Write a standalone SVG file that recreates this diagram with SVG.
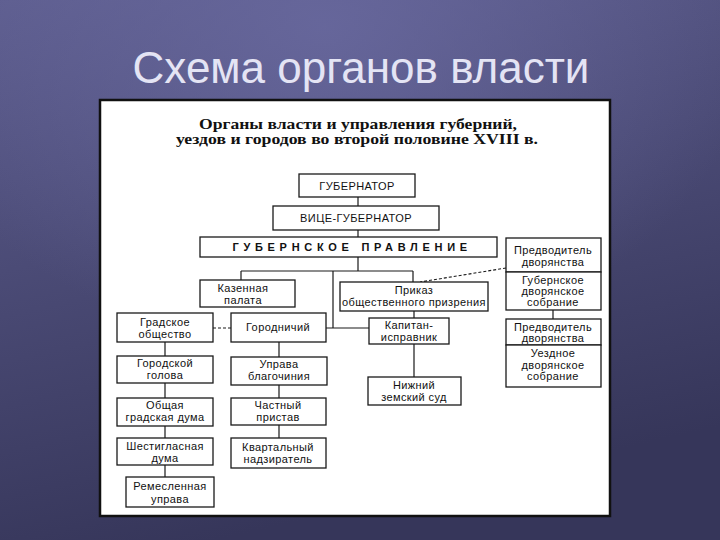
<svg xmlns="http://www.w3.org/2000/svg" width="720" height="540" viewBox="0 0 720 540">
<defs>
<linearGradient id="bg" x1="0" y1="0" x2="0.3" y2="1">
<stop offset="0" stop-color="#5d5d8e"/>
<stop offset="1" stop-color="#36365a"/>
</linearGradient>
<radialGradient id="hl" cx="0.45" cy="0.05" r="0.6">
<stop offset="0" stop-color="#6a6aa0" stop-opacity="0.8"/>
<stop offset="1" stop-color="#6a6aa0" stop-opacity="0"/>
</radialGradient>
<style>
.box{fill:#fff;stroke:#1a1a1a;stroke-width:1.3}
.t{font-family:"Liberation Sans",Arial,sans-serif;font-size:11px;letter-spacing:0.4px;fill:#111;text-anchor:middle}
.c{fill:none;stroke:#1a1a1a;stroke-width:1.2}
.d{fill:none;stroke:#1a1a1a;stroke-width:1.1;stroke-dasharray:3 2}
.h{font-family:"Liberation Serif","Times New Roman",serif;font-weight:bold;font-size:15px;fill:#111;text-anchor:middle}
</style>
</defs>
<rect width="720" height="540" fill="url(#bg)"/>
<rect width="720" height="540" fill="url(#hl)"/>
<text x="361" y="83" font-family="Liberation Sans,Arial,sans-serif" font-size="44" fill="#e4e4f4" text-anchor="middle">Схема органов власти</text>
<rect x="100" y="100" width="510" height="416" fill="#fff" stroke="#111" stroke-width="2.5"/>
<text class="h" x="358" y="129" textLength="318" lengthAdjust="spacingAndGlyphs">Органы власти и управления губерний,</text>
<text class="h" x="357" y="144" textLength="362" lengthAdjust="spacingAndGlyphs">уездов и городов во второй половине XVIII в.</text>
<g id="connectors">
<path class="c" d="M358 197V206M358 230V237M358 257V271M241 271H413M241 271V280M413 271V282M333 271V328M326 328H369M414 311V318M414 344V377M553 310V319"/>
<path class="c" d="M165 342V356M165 383V398M165 426V438M165 465V477M279 342V357M279 385V398M279 425V438"/>
<path class="d" d="M213 328H231M506 268L420 282"/>
</g>
<g id="gubernator"><rect class="box" x="299" y="174" width="116" height="23"/><text class="t" x="357" y="190">ГУБЕРНАТОР</text></g>
<g id="vice"><rect class="box" x="273" y="206" width="166" height="24"/><text class="t" x="356" y="222">ВИЦЕ-ГУБЕРНАТОР</text></g>
<g id="pravlenie"><rect class="box" x="200" y="237" width="297" height="20"/><text class="t" x="350" y="251" font-weight="bold" font-size="10.5" textLength="235" lengthAdjust="spacing">ГУБЕРНСКОЕ ПРАВЛЕНИЕ</text></g>
<g id="kazennaya"><rect class="box" x="200" y="280" width="95" height="27"/><text class="t" x="243" y="292">Казенная</text><text class="t" x="243" y="304">палата</text></g>
<g id="prikaz"><rect class="box" x="340" y="282" width="148" height="29"/><text class="t" x="414" y="294">Приказ</text><text class="t" x="414" y="306" letter-spacing="0">общественного призрения</text></g>
<g id="kapitan"><rect class="box" x="369" y="318" width="80" height="26"/><text class="t" x="409" y="329">Капитан-</text><text class="t" x="409" y="341">исправник</text></g>
<g id="nizhniy"><rect class="box" x="368" y="377" width="93" height="28"/><text class="t" x="414" y="389">Нижний</text><text class="t" x="414" y="401">земский  суд</text></g>
<g id="predv-gub"><rect class="box" x="506" y="238" width="95" height="34"/><text class="t" x="553" y="254">Предводитель</text><text class="t" x="553" y="266">дворянства</text></g>
<g id="gub-sobranie"><rect class="box" x="506" y="272" width="95" height="38"/><text class="t" x="553" y="284">Губернское</text><text class="t" x="553" y="295">дворянское</text><text class="t" x="553" y="306">собрание</text></g>
<g id="predv-uezd"><rect class="box" x="506" y="319" width="95" height="26"/><text class="t" x="553" y="331">Предводитель</text><text class="t" x="553" y="342">дворянства</text></g>
<g id="uezd-sobranie"><rect class="box" x="506" y="345" width="95" height="42"/><text class="t" x="553" y="357">Уездное</text><text class="t" x="553" y="369">дворянское</text><text class="t" x="553" y="380">собрание</text></g>
<g id="gradskoe"><rect class="box" x="117" y="313" width="96" height="29"/><text class="t" x="165" y="326">Градское</text><text class="t" x="165" y="338">общество</text></g>
<g id="gorodnichiy"><rect class="box" x="231" y="313" width="95" height="29"/><text class="t" x="278" y="331">Городничий</text></g>
<g id="golova"><rect class="box" x="117" y="356" width="96" height="27"/><text class="t" x="165" y="367">Городской</text><text class="t" x="165" y="379">голова</text></g>
<g id="obshaya"><rect class="box" x="117" y="398" width="96" height="28"/><text class="t" x="165" y="409">Общая</text><text class="t" x="165" y="421">градская  дума</text></g>
<g id="shestiglasnaya"><rect class="box" x="117" y="438" width="96" height="27"/><text class="t" x="165" y="450">Шестигласная</text><text class="t" x="165" y="462">дума</text></g>
<g id="remeslennaya"><rect class="box" x="126" y="477" width="88" height="30"/><text class="t" x="170" y="490">Ремесленная</text><text class="t" x="170" y="503">управа</text></g>
<g id="uprava"><rect class="box" x="231" y="357" width="96" height="28"/><text class="t" x="279" y="368">Управа</text><text class="t" x="279" y="380">благочиния</text></g>
<g id="chastny"><rect class="box" x="231" y="398" width="95" height="27"/><text class="t" x="278" y="409">Частный</text><text class="t" x="278" y="421">пристав</text></g>
<g id="kvartalny"><rect class="box" x="231" y="438" width="95" height="30"/><text class="t" x="278" y="451">Квартальный</text><text class="t" x="278" y="463">надзиратель</text></g>
</svg>
